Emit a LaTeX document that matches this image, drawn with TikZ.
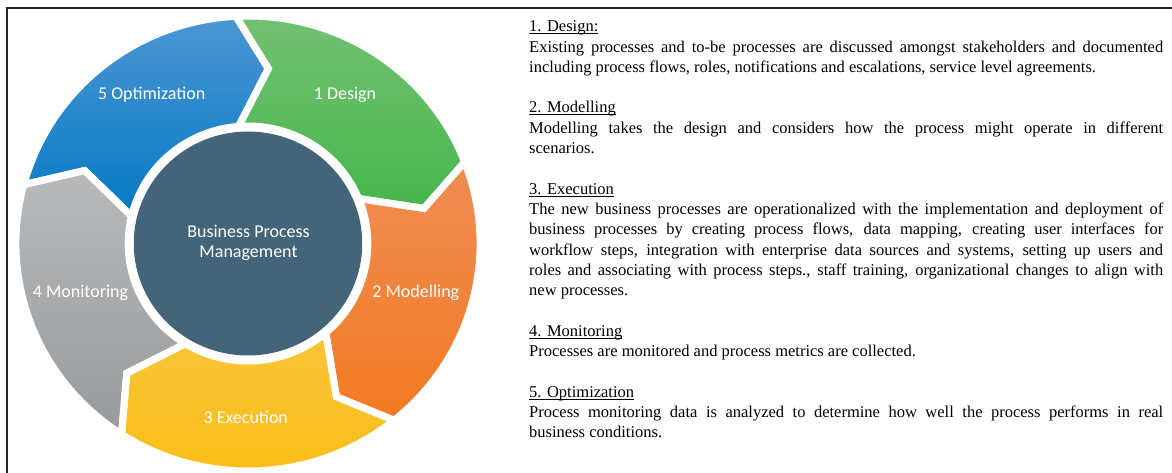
\documentclass[tikz,border=0pt]{standalone}
\usepackage{fontspec}
\setmainfont{Liberation Serif}
\newfontfamily\segfont{Carlito}
\definecolor{blueT}{HTML}{4C96D4}
\definecolor{blueB}{HTML}{057AC3}
\definecolor{greenT}{HTML}{74C174}
\definecolor{greenB}{HTML}{47B64B}
\definecolor{orangeT}{HTML}{F08D55}
\definecolor{orangeB}{HTML}{F27A22}
\definecolor{yellowT}{HTML}{F8C43A}
\definecolor{yellowB}{HTML}{FBBE14}
\definecolor{greyT}{HTML}{B8B9BA}
\definecolor{greyB}{HTML}{989A9C}
\definecolor{hub}{HTML}{436479}
\newcommand\myul[1]{\setbox0\hbox{#1}\rlap{\rule[-2.2pt]{\wd0}{0.7pt}}\box0}
\newcommand\jline[1]{\makebox[634pt][s]{#1}}
\tikzset{
  seglabel/.style={text=white, font=\segfont\fontsize{18}{20}\selectfont, inner sep=0pt, align=center},
  ln/.style={anchor=base west, inner sep=0pt, font=\fontsize{16.5}{20.3}\selectfont},
  gapline/.style={draw=white, line width=7pt, line join=miter, miter limit=20},
}
\begin{document}
\begin{tikzpicture}[x=1pt,y=1pt]
\useasboundingbox (0,0) rectangle (1172,-473);
% frame
\coordinate (fb) at (7,-473);
\coordinate (fc) at (7,-8.5);
\coordinate (fr) at (1172,-8.5);
\draw[line width=2pt, black!85] (fb) -- (fc) -- (fr);
% cycle
\begin{scope}[shift={(248,-243.5)}, xscale=1.02]
  \foreach \s/\e/\ct/\cb in {165/93/blueT/blueB, 93/21/greenT/greenB, 21/-51/orangeT/orangeB, -51/-123/yellowT/yellowB, -123/-195/greyT/greyB}{
    \shade[top color=\ct, bottom color=\cb] ({\s}:227.5) arc[start angle=\s, end angle=\e, radius=227.5pt] -- ({\e-9.5}:176) -- ({\e+1.5}:117.5) arc[start angle=\e+1.5, end angle=\s+1.5, radius=117.5pt] -- ({\s-9.5}:176) -- cycle;
  }
  \foreach \s/\e in {165/93, 93/21, 21/-51, -51/-123, -123/-195}{
    \path[gapline] ({\s}:227.5) arc[start angle=\s, end angle=\e, radius=227.5pt] -- ({\e-9.5}:176) -- ({\e+1.5}:117.5) arc[start angle=\e+1.5, end angle=\s+1.5, radius=117.5pt] -- ({\s-9.5}:176) -- cycle;
  }
  \fill[hub] (0,0) circle[radius=112pt];
\end{scope}
\node[seglabel] (hubtext) at (248.5,-243) {Business Process\\Management};
\node[seglabel] (s5) at (151.7,-95) {5 Optimization};
\node[seglabel] (s1) at (345,-95) {1 Design};
\node[seglabel] (s2) at (415.8,-293) {2 Modelling};
\node[seglabel] (s3) at (245.8,-417.7) {3 Execution};
\node[seglabel] (s4) at (80.5,-293) {4 Monitoring};
% text
\node[ln] (l0) at (529,-31.8) {\myul{1. Design:}};
\node[ln] (l1) at (529,-52.1) {\jline{Existing processes and to-be processes are discussed amongst stakeholders and documented}};
\node[ln] (l2) at (529,-72.4) {including process flows, roles, notifications and escalations, service level agreements.};
\node[ln] (l4) at (529,-113.0) {\myul{2. Modelling}};
\node[ln] (l5) at (529,-133.3) {\jline{Modelling takes the design and considers how the process might operate in different}};
\node[ln] (l6) at (529,-153.6) {scenarios.};
\node[ln] (l8) at (529,-194.2) {\myul{3. Execution}};
\node[ln] (l9) at (529,-214.5) {\jline{The new business processes are operationalized with the implementation and deployment of}};
\node[ln] (l10) at (529,-234.8) {\jline{business processes by creating process flows, data mapping, creating user interfaces for}};
\node[ln] (l11) at (529,-255.1) {\jline{workflow steps, integration with enterprise data sources and systems, setting up users and}};
\node[ln] (l12) at (529,-275.4) {\jline{roles and associating with process steps., staff training, organizational changes to align with}};
\node[ln] (l13) at (529,-295.7) {new processes.};
\node[ln] (l15) at (529,-336.3) {\myul{4. Monitoring}};
\node[ln] (l16) at (529,-356.6) {Processes are monitored and process metrics are collected.};
\node[ln] (l18) at (529,-397.2) {\myul{5. Optimization}};
\node[ln] (l19) at (529,-417.5) {\jline{Process monitoring data is analyzed to determine how well the process performs in real}};
\node[ln] (l20) at (529,-437.8) {business conditions.};
\end{tikzpicture}
\end{document}
